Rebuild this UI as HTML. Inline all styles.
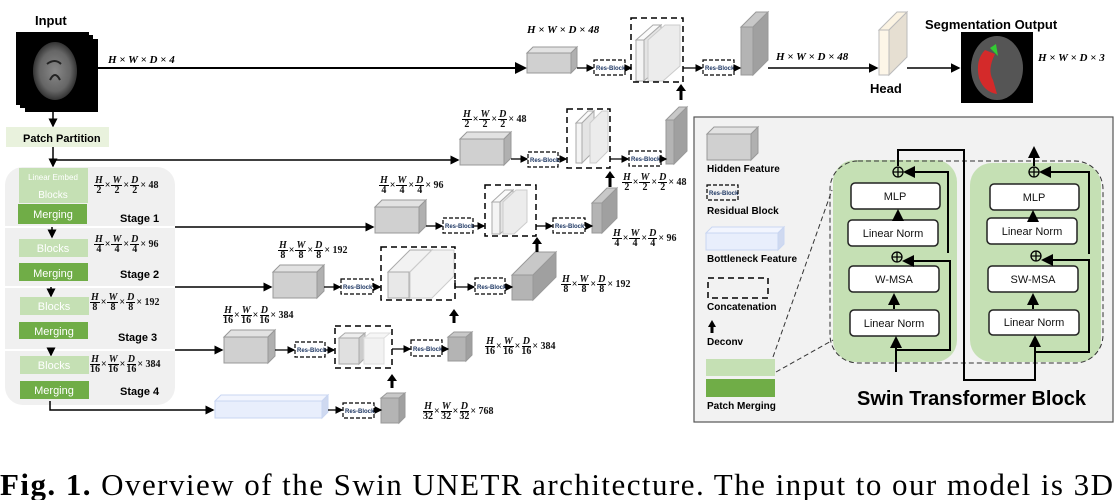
<!DOCTYPE html>
<html><head><meta charset="utf-8"><style>
body{margin:0;width:1117px;height:500px;background:#fff;position:relative;overflow:hidden;font-family:"Liberation Sans",sans-serif}
svg{position:absolute;left:0;top:0}
.f{position:absolute;font:bold 10px "Liberation Serif",serif;display:flex;align-items:center;white-space:nowrap;color:#111}
.q{display:inline-flex;flex-direction:column;align-items:center;line-height:9px;font-size:10px;margin:0 1px}
.q i{border-bottom:1px solid #000;padding:0 1px}
.q b{font-weight:bold}
.t{position:absolute;font:bold italic 11px "Liberation Serif",serif;white-space:nowrap}
</style></head><body>
<svg width="1117" height="500" viewBox="0 0 1117 500">
<defs>
<marker id="a" markerWidth="6" markerHeight="6" refX="5" refY="3" orient="auto"><path d="M0,0 L6,3 L0,6z" fill="#000"/></marker>
<radialGradient id="br" cx="50%" cy="50%" r="50%"><stop offset="0" stop-color="#888"/><stop offset="0.7" stop-color="#666"/><stop offset="1" stop-color="#333"/></radialGradient>
</defs>
<rect x="694" y="117" width="419" height="305" fill="#f2f2f2" stroke="#555" stroke-width="1.2"/>
<g font-family="Liberation Sans" font-weight="bold">
<text x="35" y="25" font-size="13">Input</text>
<rect x="25" y="39" width="73" height="73" fill="#000"/>
<rect x="20" y="35" width="73" height="73" fill="#000"/>
<rect x="16" y="32" width="73" height="73" fill="#000"/>
<ellipse cx="55" cy="71" rx="22" ry="29" fill="url(#br)"/>
<path d="M50,80 q5,-10 10,0 M47,64 q8,-6 14,0" stroke="#222" stroke-width="2" fill="none"/>
<line x1="98" y1="68" x2="525" y2="68" stroke="#000" stroke-width="2" marker-end="url(#a)"/>
<line x1="53" y1="112" x2="53" y2="126" stroke="#000" stroke-width="1.5" marker-end="url(#a)"/>
<rect x="6" y="127" width="103" height="20" fill="#e9f2dd"/>
<text x="23" y="142" font-size="11">Patch Partition</text>
<line x1="53" y1="147" x2="53" y2="166" stroke="#000" stroke-width="1.5" marker-end="url(#a)"/>
<line x1="53" y1="160" x2="458" y2="160" stroke="#000" stroke-width="1.5" marker-end="url(#a)"/>
<rect x="5" y="167" width="170" height="238" rx="18" fill="#f0f0f0"/>
<line x1="5" y1="227" x2="175" y2="227" stroke="#fff" stroke-width="2"/>
<line x1="5" y1="287" x2="175" y2="287" stroke="#fff" stroke-width="2"/>
<line x1="5" y1="350" x2="175" y2="350" stroke="#fff" stroke-width="2"/>
<rect x="19" y="168" width="69" height="35" fill="#c5e0b4"/>
<text x="53" y="180" font-size="8" fill="#fff" font-weight="normal" text-anchor="middle">Linear Embed</text>
<text x="53" y="198" font-size="10" fill="#fff" font-weight="normal" text-anchor="middle">Blocks</text>
<rect x="18" y="204" width="69" height="20" fill="#70ad47"/>
<text x="53" y="218" font-size="11" fill="#fff" font-weight="normal" text-anchor="middle">Merging</text>
<text x="120" y="222" font-size="11">Stage 1</text>
<line x1="52" y1="227" x2="52" y2="237" stroke="#000" stroke-width="1.5" marker-end="url(#a)"/>
<rect x="19" y="239" width="69" height="18" fill="#c5e0b4"/>
<text x="53" y="252" font-size="11" fill="#fff" font-weight="normal" text-anchor="middle">Blocks</text>
<rect x="19" y="263" width="69" height="18" fill="#70ad47"/>
<text x="53" y="277" font-size="11" fill="#fff" font-weight="normal" text-anchor="middle">Merging</text>
<text x="120" y="278" font-size="11">Stage 2</text>
<line x1="51" y1="287" x2="51" y2="296" stroke="#000" stroke-width="1.5" marker-end="url(#a)"/>
<rect x="20" y="297" width="69" height="18" fill="#c5e0b4"/>
<text x="54" y="310" font-size="11" fill="#fff" font-weight="normal" text-anchor="middle">Blocks</text>
<rect x="19" y="322" width="69" height="17" fill="#70ad47"/>
<text x="54" y="335" font-size="11" fill="#fff" font-weight="normal" text-anchor="middle">Merging</text>
<text x="118" y="341" font-size="11">Stage 3</text>
<line x1="51" y1="350" x2="51" y2="355" stroke="#000" stroke-width="1.5" marker-end="url(#a)"/>
<rect x="20" y="356" width="69" height="18" fill="#c5e0b4"/>
<text x="54" y="369" font-size="11" fill="#fff" font-weight="normal" text-anchor="middle">Blocks</text>
<rect x="20" y="381" width="69" height="18" fill="#70ad47"/>
<text x="54" y="394" font-size="11" fill="#fff" font-weight="normal" text-anchor="middle">Merging</text>
<text x="120" y="395" font-size="11">Stage 4</text>
<polyline points="50,401 50,410 213,410" fill="none" stroke="#000" stroke-width="1.5" marker-end="url(#a)"/>
<line x1="175" y1="227" x2="373" y2="227" stroke="#000" stroke-width="1.5" marker-end="url(#a)"/>
<line x1="175" y1="287" x2="271" y2="287" stroke="#000" stroke-width="1.5" marker-end="url(#a)"/>
<line x1="175" y1="350" x2="222" y2="350" stroke="#000" stroke-width="1.5" marker-end="url(#a)"/>
</g>
<g stroke="#999" stroke-width="1">
<rect x="460" y="139" width="44" height="26" fill="#d0d0d0"/><polygon points="460,139 467,132 511,132 504,139" fill="#e2e2e2"/><polygon points="504,139 511,132 511,158 504,165" fill="#b0b0b0"/>
<rect x="375" y="207" width="44" height="26" fill="#d0d0d0"/><polygon points="375,207 382,200 426,200 419,207" fill="#e2e2e2"/><polygon points="419,207 426,200 426,226 419,233" fill="#b0b0b0"/>
<rect x="273" y="272" width="44" height="26" fill="#d0d0d0"/><polygon points="273,272 280,265 324,265 317,272" fill="#e2e2e2"/><polygon points="317,272 324,265 324,291 317,298" fill="#b0b0b0"/>
<rect x="224" y="337" width="44" height="26" fill="#d0d0d0"/><polygon points="224,337 231,330 275,330 268,337" fill="#e2e2e2"/><polygon points="268,337 275,330 275,356 268,363" fill="#b0b0b0"/>
<rect x="527" y="53" width="44" height="20" fill="#d0d0d0"/><polygon points="527,53 533,47 577,47 571,53" fill="#e2e2e2"/><polygon points="571,53 577,47 577,67 571,73" fill="#b0b0b0"/>
<rect x="215" y="401" width="107" height="17" fill="#e8eefc" stroke="#c9d6f2"/><polygon points="215,401 221,395 328,395 322,401" fill="#f2f5fe" stroke="#c9d6f2"/><polygon points="322,401 328,395 328,412 322,418" fill="#cfd9f0" stroke="#c9d6f2"/>
<rect x="741" y="27" width="12" height="48" fill="#b4b4b4"/><polygon points="741,27 756,12 768,12 753,27" fill="#c8c8c8"/><polygon points="753,27 768,12 768,60 753,75" fill="#a0a0a0"/>
<rect x="666" y="120" width="8" height="44" fill="#b4b4b4"/><polygon points="666,120 679,107 687,107 674,120" fill="#c8c8c8"/><polygon points="674,120 687,107 687,151 674,164" fill="#a0a0a0"/>
<rect x="592" y="203" width="10" height="30" fill="#b4b4b4"/><polygon points="592,203 607,188 617,188 602,203" fill="#c8c8c8"/><polygon points="602,203 617,188 617,218 602,233" fill="#a0a0a0"/>
<rect x="512" y="275" width="21" height="25" fill="#b4b4b4"/><polygon points="512,275 535,252 556,252 533,275" fill="#c8c8c8"/><polygon points="533,275 556,252 556,277 533,300" fill="#a0a0a0"/>
<rect x="448" y="337" width="18" height="24" fill="#b4b4b4"/><polygon points="448,337 454,332 472,332 466,337" fill="#c8c8c8"/><polygon points="466,337 472,332 472,355 466,361" fill="#a0a0a0"/>
<rect x="381" y="398" width="18" height="25" fill="#b4b4b4"/><polygon points="381,398 387,393 405,393 399,398" fill="#c8c8c8"/><polygon points="399,398 405,393 405,417 399,423" fill="#a0a0a0"/>
<rect x="879" y="30" width="10" height="45" fill="#fdf6e8" stroke="#bbb"/><polygon points="879,30 897,12 907,12 889,30" fill="#fbf3e2" stroke="#bbb"/><polygon points="889,30 907,12 907,57 889,75" fill="#e6dfd2" stroke="#bbb"/>
<g fill="#eeeeee" stroke="#aaa">
<rect x="636" y="40" width="8" height="41" fill="#f4f4f4"/><polygon points="636,40 653,25 661,25 644,40" fill="#fafafa"/><polygon points="644,40 661,25 661,66 644,81" fill="#e4e4e4"/>
<polygon points="648,40 665,25 680,25 680,66 663,81 648,81" fill="#ececec" stroke="#ccc"/>
<rect x="576" y="123" width="6" height="40" fill="#f4f4f4"/><polygon points="576,123 588,111 594,111 582,123" fill="#fafafa"/><polygon points="582,123 594,111 594,151 582,163" fill="#e4e4e4"/>
<polygon points="590,123 602,111 608,111 608,151 596,163 590,163" fill="#ececec" stroke="#ccc"/>
<rect x="492" y="202" width="8" height="32" fill="#f4f4f4"/><polygon points="492,202 505,190 513,190 500,202" fill="#fafafa"/><polygon points="500,202 513,190 513,222 500,234" fill="#e4e4e4"/>
<polygon points="503,202 516,190 527,190 527,222 514,234 503,234" fill="#ececec" stroke="#ccc"/>
<rect x="388" y="272" width="21" height="26" fill="#e8e8e8"/><polygon points="388,272 410,250 432,250 410,272" fill="#f2f2f2"/><polygon points="410,272 432,250 432,276 410,298" fill="#d4d4d4"/>
<polygon points="410,272 432,250 454,250 454,276 432,298 410,298" fill="#f2f2f2" stroke="#ccc"/>
<rect x="339" y="338" width="20" height="26" fill="#e0e0e0"/><polygon points="339,338 345,333 365,333 359,338" fill="#eee"/><polygon points="359,338 365,333 365,358 359,364" fill="#ccc"/>
<rect x="364" y="338" width="20" height="26" fill="#f2f2f2" stroke="#ddd"/><polygon points="364,338 370,333 390,333 384,338" fill="#f6f6f6" stroke="#ddd"/>
</g>
</g>
<g fill="none" stroke="#000" stroke-width="1.5" stroke-dasharray="6,4">
<rect x="631" y="18" width="52" height="64"/>
<rect x="567" y="109" width="43" height="59"/>
<rect x="485" y="185" width="51" height="51"/>
<rect x="381" y="247" width="74" height="53"/>
<rect x="335" y="326" width="57" height="42"/>
<rect x="708" y="278" width="60" height="20"/>
</g>
<g font-family="Liberation Sans" font-weight="bold" font-size="6" fill="#1f3864">
<g fill="none" stroke="#000" stroke-width="1.2" stroke-dasharray="4,2">
<rect x="594" y="60" width="31" height="15"/><rect x="703" y="60" width="31" height="15"/>
<rect x="528" y="152" width="30" height="15"/><rect x="629" y="151" width="32" height="15"/>
<rect x="443" y="218" width="30" height="15"/><rect x="553" y="218" width="32" height="15"/>
<rect x="341" y="279" width="32" height="15"/><rect x="475" y="278" width="30" height="16"/>
<rect x="295" y="342" width="30" height="15"/><rect x="411" y="340" width="31" height="16"/>
<rect x="343" y="403" width="31" height="15"/><rect x="707" y="185" width="31" height="15"/>
</g>
<text x="596" y="70">Res-Block</text><text x="705" y="70">Res-Block</text>
<text x="530" y="162">Res-Block</text><text x="631" y="161">Res-Block</text>
<text x="445" y="228">Res-Block</text><text x="555" y="228">Res-Block</text>
<text x="343" y="289">Res-Block</text><text x="477" y="289">Res-Block</text>
<text x="297" y="352">Res-Block</text><text x="413" y="351">Res-Block</text>
<text x="345" y="413">Res-Block</text><text x="709" y="195">Res-Block</text>
</g>
<g stroke="#000" stroke-width="1.3" fill="none" marker-end="url(#a)">
<line x1="577" y1="68" x2="593" y2="68"/><line x1="625" y1="68" x2="631" y2="68"/>
<line x1="683" y1="68" x2="702" y2="68"/><line x1="734" y1="68" x2="740" y2="68"/>
<line x1="768" y1="68" x2="877" y2="68" stroke-width="1.6"/><line x1="907" y1="68" x2="959" y2="68" stroke-width="1.6"/>
<line x1="511" y1="159" x2="527" y2="159"/><line x1="558" y1="159" x2="566" y2="159"/>
<line x1="610" y1="159" x2="628" y2="159"/><line x1="661" y1="159" x2="666" y2="159"/>
<line x1="426" y1="226" x2="442" y2="226"/><line x1="473" y1="226" x2="484" y2="226"/>
<line x1="536" y1="226" x2="552" y2="226"/><line x1="585" y1="226" x2="592" y2="226"/>
<line x1="324" y1="287" x2="340" y2="287"/><line x1="373" y1="287" x2="380" y2="287"/>
<polyline points="455,280 455,287 474,287"/><line x1="505" y1="287" x2="512" y2="287"/>
<line x1="275" y1="350" x2="294" y2="350"/><line x1="325" y1="350" x2="334" y2="350"/>
<line x1="392" y1="349" x2="410" y2="349"/><line x1="442" y1="349" x2="448" y2="349"/>
<line x1="328" y1="410" x2="342" y2="410"/><line x1="374" y1="410" x2="381" y2="410"/>
</g>
<g stroke="#000" stroke-width="3" fill="#000">
<line x1="681" y1="100" x2="681" y2="90"/><polygon points="676,91 686,91 681,84" stroke="none"/>
<line x1="610" y1="187" x2="610" y2="177"/><polygon points="605,178 615,178 610,171" stroke="none"/>
<line x1="537" y1="252" x2="537" y2="243"/><polygon points="532,244 542,244 537,237" stroke="none"/>
<line x1="454" y1="323" x2="454" y2="315"/><polygon points="449,316 459,316 454,309" stroke="none"/>
<line x1="392" y1="388" x2="392" y2="380"/><polygon points="387,381 397,381 392,374" stroke="none"/>
<line x1="712" y1="333" x2="712" y2="326"/><polygon points="708,327 716,327 712,320" stroke="none"/>
</g>
<g font-family="Liberation Sans" font-weight="bold">
<text x="870" y="93" font-size="13">Head</text>
<text x="925" y="29" font-size="13">Segmentation Output</text>
<rect x="961" y="32" width="72" height="71" fill="#000"/>
<ellipse cx="997" cy="68" rx="26" ry="32" fill="#555"/>
<path d="M985,50 q-10,10 -6,28 q5,14 18,16 l-4,-14 q-6,-10 2,-26z" fill="#d42a2a"/>
<path d="M990,48 l6,-4 l2,12 z" fill="#3c3"/>
</g>
<g font-family="Liberation Sans" font-weight="bold" font-size="10">
<rect x="707" y="134" width="44" height="26" fill="#d0d0d0" stroke="#999"/><polygon points="707,134 714,127 758,127 751,134" fill="#e2e2e2" stroke="#999"/><polygon points="751,134 758,127 758,153 751,160" fill="#b0b0b0" stroke="#999"/>
<text x="707" y="172">Hidden Feature</text>
<text x="707" y="214">Residual Block</text>
<rect x="706" y="233" width="72" height="17" fill="#e8eefc" stroke="#c9d6f2"/><polygon points="706,233 712,227 784,227 778,233" fill="#f2f5fe" stroke="#c9d6f2"/><polygon points="778,233 784,227 784,244 778,250" fill="#cfd9f0" stroke="#c9d6f2"/>
<text x="707" y="262">Bottleneck Feature</text>
<text x="707" y="310">Concatenation</text>
<text x="707" y="345">Deconv</text>
<rect x="706" y="359" width="69" height="17" fill="#c5e0b4"/>
<rect x="706" y="379" width="69" height="18" fill="#70ad47"/>
<text x="707" y="409">Patch Merging</text>
</g>
<rect x="833" y="160" width="124" height="202" rx="22" fill="#c5e0b4"/>
<rect x="970" y="163" width="131" height="199" rx="22" fill="#c5e0b4"/>
<rect x="830" y="161" width="273" height="202" rx="28" fill="none" stroke="#333" stroke-dasharray="5,3"/>
<g stroke="#333" stroke-dasharray="5,3"><line x1="776" y1="372" x2="833" y2="340"/><line x1="773" y1="357" x2="832" y2="190"/></g>
<g fill="#fff" stroke="#222" stroke-width="1.5">
<rect x="851" y="183" width="89" height="26" rx="4"/><rect x="848" y="220" width="90" height="26" rx="4"/>
<rect x="849" y="266" width="90" height="26" rx="4"/><rect x="850" y="310" width="89" height="26" rx="4"/>
<rect x="990" y="184" width="89" height="26" rx="4"/><rect x="987" y="218" width="90" height="26" rx="4"/>
<rect x="988" y="266" width="90" height="26" rx="4"/><rect x="989" y="310" width="90" height="25" rx="4"/>
</g>
<g font-family="Liberation Sans" font-size="11" text-anchor="middle" fill="#111">
<text x="895" y="200">MLP</text><text x="893" y="237">Linear Norm</text><text x="894" y="283">W-MSA</text><text x="894" y="327">Linear Norm</text>
<text x="1034" y="201">MLP</text><text x="1032" y="235">Linear Norm</text><text x="1033" y="283">SW-MSA</text><text x="1034" y="326">Linear Norm</text>
</g>
<g fill="none" stroke="#000" stroke-width="1.3">
<circle cx="898" cy="172" r="5"/><path d="M893,172h10M898,167v10"/>
<circle cx="897" cy="257" r="5"/><path d="M892,257h10M897,252v10"/>
<circle cx="1034" cy="172" r="5"/><path d="M1029,172h10M1034,167v10"/>
<circle cx="1036" cy="256" r="5"/><path d="M1031,256h10M1036,251v10"/>
</g>
<g fill="none" stroke="#000" stroke-width="2">
<line x1="896" y1="372" x2="896" y2="338" marker-end="url(#a)"/>
<polyline points="896,350 950,350 950,261 904,261" marker-end="url(#a)"/>
<polyline points="948,253 948,172 905,172" marker-end="url(#a)"/>
<polyline points="898,166 898,150 964,150 964,380 1035,380 1035,337" marker-end="url(#a)"/>
<polyline points="1035,352 1089,352 1089,260 1043,260" marker-end="url(#a)"/>
<polyline points="1089,254 1089,172 1041,172" marker-end="url(#a)"/>
<line x1="1034" y1="166" x2="1034" y2="148" marker-end="url(#a)"/>
<line x1="898" y1="219" x2="898" y2="211" marker-end="url(#a)"/><line x1="894" y1="309" x2="894" y2="295" marker-end="url(#a)"/>
<line x1="1033" y1="217" x2="1033" y2="212" marker-end="url(#a)"/><line x1="1033" y1="309" x2="1033" y2="295" marker-end="url(#a)"/>
</g>
<text x="857" y="405" font-family="Liberation Sans" font-weight="bold" font-size="20">Swin Transformer Block</text>
<text x="0" y="495" font-family="Liberation Serif" font-size="31" textLength="1113" lengthAdjust="spacing"><tspan font-weight="bold">Fig. 1.</tspan> Overview of the Swin UNETR architecture. The input to our model is 3D</text>
</svg>

<div class="t" style="left:108px;top:54px">H × W × D × 4</div>
<div class="t" style="left:527px;top:24px">H × W × D × 48</div>
<div class="t" style="left:776px;top:51px">H × W × D × 48</div>
<div class="t" style="left:1038px;top:52px">H × W × D × 3</div>

<div class="f" style="left:93px;top:176px"><span class="q"><i>H</i><b>2</b></span>×<span class="q"><i>W</i><b>2</b></span>×<span class="q"><i>D</i><b>2</b></span>× 48</div>
<div class="f" style="left:93px;top:235px"><span class="q"><i>H</i><b>4</b></span>×<span class="q"><i>W</i><b>4</b></span>×<span class="q"><i>D</i><b>4</b></span>× 96</div>
<div class="f" style="left:89px;top:293px"><span class="q"><i>H</i><b>8</b></span>×<span class="q"><i>W</i><b>8</b></span>×<span class="q"><i>D</i><b>8</b></span>× 192</div>
<div class="f" style="left:89px;top:355px"><span class="q"><i>H</i><b>16</b></span>×<span class="q"><i>W</i><b>16</b></span>×<span class="q"><i>D</i><b>16</b></span>× 384</div>
<div class="f" style="left:461px;top:110px"><span class="q"><i>H</i><b>2</b></span>×<span class="q"><i>W</i><b>2</b></span>×<span class="q"><i>D</i><b>2</b></span>× 48</div>
<div class="f" style="left:378px;top:176px"><span class="q"><i>H</i><b>4</b></span>×<span class="q"><i>W</i><b>4</b></span>×<span class="q"><i>D</i><b>4</b></span>× 96</div>
<div class="f" style="left:277px;top:241px"><span class="q"><i>H</i><b>8</b></span>×<span class="q"><i>W</i><b>8</b></span>×<span class="q"><i>D</i><b>8</b></span>× 192</div>
<div class="f" style="left:222px;top:306px"><span class="q"><i>H</i><b>16</b></span>×<span class="q"><i>W</i><b>16</b></span>×<span class="q"><i>D</i><b>16</b></span>× 384</div>
<div class="f" style="left:621px;top:173px"><span class="q"><i>H</i><b>2</b></span>×<span class="q"><i>W</i><b>2</b></span>×<span class="q"><i>D</i><b>2</b></span>× 48</div>
<div class="f" style="left:611px;top:229px"><span class="q"><i>H</i><b>4</b></span>×<span class="q"><i>W</i><b>4</b></span>×<span class="q"><i>D</i><b>4</b></span>× 96</div>
<div class="f" style="left:560px;top:275px"><span class="q"><i>H</i><b>8</b></span>×<span class="q"><i>W</i><b>8</b></span>×<span class="q"><i>D</i><b>8</b></span>× 192</div>
<div class="f" style="left:484px;top:337px"><span class="q"><i>H</i><b>16</b></span>×<span class="q"><i>W</i><b>16</b></span>×<span class="q"><i>D</i><b>16</b></span>× 384</div>
<div class="f" style="left:422px;top:402px"><span class="q"><i>H</i><b>32</b></span>×<span class="q"><i>W</i><b>32</b></span>×<span class="q"><i>D</i><b>32</b></span>× 768</div>
</body></html>
